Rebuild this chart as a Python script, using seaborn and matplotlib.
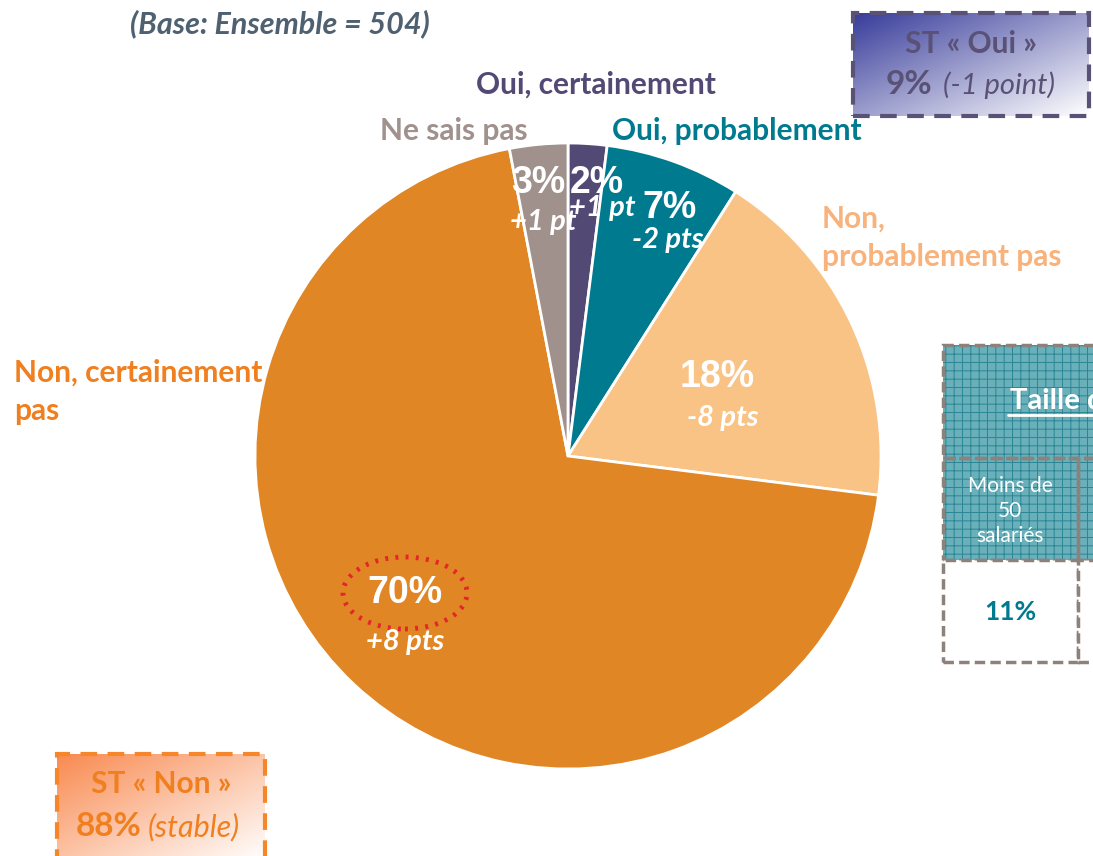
import numpy as np
import matplotlib.pyplot as plt
import seaborn as sns
from matplotlib.patches import Rectangle, Ellipse

# Données du graphique
categories = ["Oui, certainement", "Oui, probablement", "Non, probablement pas",
              "Non, certainement pas", "Ne sais pas"]
values = [2, 7, 18, 70, 3]
evolutions = ["+1 pt", "-2 pts", "-8 pts", "+8 pts", "+1 pt"]
colors = ["#524A74", "#007A8E", "#F9C386", "#E08624", "#A0918C"]
label_colors = ["#524A74", "#007A8E", "#F8B27C", "#F07F1F", "#A0918C"]

st_oui = ("ST « Oui »", "9%", "(-1 point)")
st_non = ("ST « Non »", "88%", "(stable)")
taille_header = "Taille d"
taille_cols = ["Moins de\n50\nsalariés"]
taille_values = ["11%"]

sns.set_theme(style="white")
plt.rcParams['font.family'] = ['Lato', 'DejaVu Sans']
plt.rcParams['hatch.linewidth'] = 0.7

W, H = 1093, 856
fig = plt.figure(figsize=(W / 100, H / 100), dpi=100)
ax = fig.add_axes([0, 0, 1, 1])


def py(y):
    return H - y


# Camembert
wedges, _ = ax.pie(values, colors=colors, startangle=90, counterclock=False,
                   center=(568, py(456)), radius=313,
                   wedgeprops=dict(edgecolor="white", linewidth=2))
ax.set_xlim(0, W)
ax.set_ylim(0, H)
ax.set_aspect('equal')
ax.axis('off')

# Pourcentages dans les parts
pct_font = ['Liberation Sans', 'DejaVu Sans']
pct_pos = [(597, 183), (670, 208), (717, 377), (405, 593), (538, 183)]
evo_pos = [(602, 208), (668, 240), (723, 418), (405, 642), (543, 222)]
for v, e, (x, y), (ex, ey) in zip(values, evolutions, pct_pos, evo_pos):
    ax.text(x, py(y), f"{v}%", color="white", fontsize=27, fontweight="bold",
            family=pct_font, ha="center", va="center")
    ax.text(ex, py(ey), e, color="white", fontsize=21, fontweight="bold",
            style="italic", ha="center", va="center")

# Cercle pointillé autour de 70%
ax.add_patch(Ellipse((405, py(593)), 124, 72, fill=False, edgecolor="#E3262A",
                     linestyle=(0, (0.6, 1.5)), linewidth=3.5))

# Étiquettes extérieures
lab = dict(fontsize=21.5, fontweight="bold", va="center")
ax.text(596, py(85), categories[0], color=label_colors[0], ha="center", **lab)
ax.text(612, py(131), categories[1], color=label_colors[1], ha="left", **lab)
ax.text(822, py(238), "Non,\nprobablement pas", color=label_colors[2],
        ha="left", linespacing=1.45, **lab)
ax.text(14, py(392), "Non, certainement\npas", color=label_colors[3],
        ha="left", linespacing=1.45, **lab)
ax.text(528, py(131), categories[4], color=label_colors[4], ha="right", **lab)

ax.text(130, py(24), "(Base: Ensemble = 504)", color="#4F6170", fontsize=22,
        fontweight="bold", style="italic", ha="left", va="center")


# Encadrés avec dégradé
def gradient_box(x0, y0, x1, y1, c0, edge):
    c0 = np.array(plt.matplotlib.colors.to_rgb(c0))
    u = np.linspace(0, 1, 200)
    uu, vv = np.meshgrid(u, u)
    t = np.clip((uu + vv) / 2, 0, 1)[..., None]
    img = c0 * (1 - t) + np.ones(3) * t
    ax.imshow(img, extent=(x0, x1, py(y1), py(y0)), origin="upper",
              zorder=1, aspect="auto")
    ax.add_patch(Rectangle((x0, py(y1)), x1 - x0, y1 - y0, fill=False,
                           edgecolor=edge, linewidth=3, linestyle=(0, (4, 2.5)),
                           zorder=2))


gradient_box(853, 13, 1089, 116, "#383C9A", "#5A5177")
ax.text(971, py(44), st_oui[0], color="#5A5177", fontsize=21.5, fontweight="bold",
        ha="center", va="center", zorder=3)
ax.text(886, py(84), st_oui[1], color="#5A5177", fontsize=24, fontweight="bold",
        ha="left", va="center", zorder=3)
ax.text(943, py(85), st_oui[2], color="#5A5177", fontsize=21, style="italic",
        ha="left", va="center", zorder=3)

gradient_box(57, 754, 265, 860, "#F98A50", "#F5862A")
ax.text(161, py(784), st_non[0], color="#F07F1F", fontsize=21.5, fontweight="bold",
        ha="center", va="center", zorder=3)
ax.text(76, py(826), st_non[1], color="#F07F1F", fontsize=24, fontweight="bold",
        ha="left", va="center", zorder=3)
ax.text(148, py(827), st_non[2], color="#F07F1F", fontsize=22, style="italic",
        ha="left", va="center", zorder=3)

# Tableau « Taille d'entreprise » (coupé à droite)
grid_edge = "#8E817C"
for (x0, y0, x1, y1) in [(943, 345, 1100, 458), (943, 458, 1078, 560),
                         (1078, 458, 1100, 560)]:
    ax.add_patch(Rectangle((x0, py(y1)), x1 - x0, y1 - y0, facecolor="#6AB0BA",
                           edgecolor="#2A8594", hatch="++", linewidth=0, zorder=1))
    ax.add_patch(Rectangle((x0, py(y1)), x1 - x0, y1 - y0, fill=False,
                           edgecolor=grid_edge, linewidth=2.5,
                           linestyle=(0, (3, 1.5)), zorder=2))
for (x0, y0, x1, y1) in [(943, 560, 1078, 662), (1078, 560, 1100, 662)]:
    ax.add_patch(Rectangle((x0, py(y1)), x1 - x0, y1 - y0, facecolor="white",
                           edgecolor=grid_edge, linewidth=2.5,
                           linestyle=(0, (3, 1.5)), zorder=2))

ax.text(1010, py(401), taille_header, color="white", fontsize=21,
        fontweight="bold", ha="left", va="center", zorder=3)
ax.plot([1008, 1100], [py(415), py(415)], color="white", lw=2, zorder=3)
ax.text(1010, py(511), taille_cols[0], color="white", fontsize=15,
        ha="center", va="center", linespacing=1.3, zorder=3)
ax.text(1010, py(612), taille_values[0], color="#007A8E", fontsize=19,
        fontweight="bold", ha="center", va="center", zorder=3)

fig.savefig("out.png", dpi=100)
